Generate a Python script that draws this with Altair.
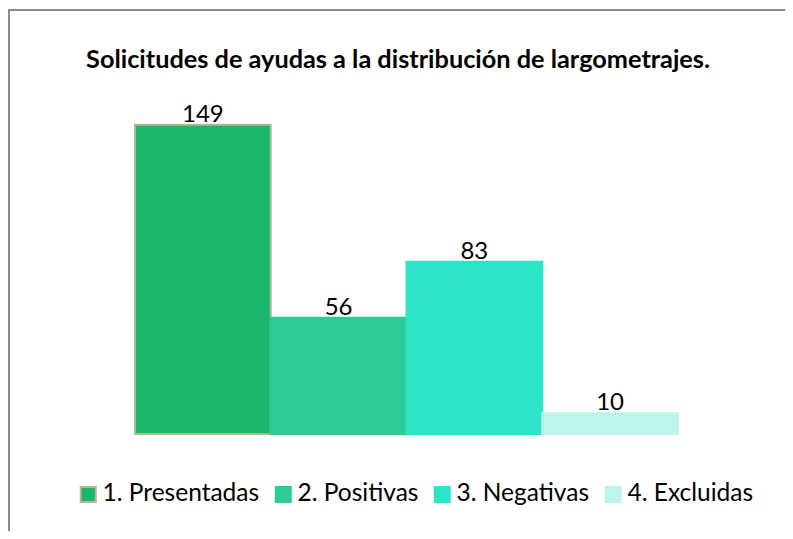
import altair as alt
import pandas as pd

categories = ["1. Presentadas", "2. Positivas", "3. Negativas", "4. Excluidas"]
values = [149, 56, 83, 10]
fill_colors = ["#1BB76E", "#2DCB97", "#2DE5C6", "#BDF5EC"]
stroke_colors = ["#B3B893", "#2DCB97", "#2DE5C6", "#BDF5EC"]
title_text = "Solicitudes de ayudas a la distribución de largometrajes."

df = pd.DataFrame({"cat": categories, "val": values})

FONT = "Lato"

base = alt.Chart(df).encode(
    x=alt.X("cat:N", sort=categories, axis=None,
            scale=alt.Scale(paddingInner=0, paddingOuter=0)),
    y=alt.Y("val:Q", axis=None, scale=alt.Scale(domain=[0, 160], nice=False)),
)

bars = base.mark_bar(strokeWidth=2).encode(
    fill=alt.Fill("cat:N", sort=categories,
                  scale=alt.Scale(domain=categories, range=fill_colors),
                  legend=alt.Legend(title=None, orient="none", direction="horizontal",
                                    legendX=-59, legendY=380,
                                    symbolType="square", symbolSize=225,
                                    symbolStrokeWidth=2,
                                    labelFont=FONT, labelFontSize=24.5, labelColor="#000000",
                                    labelOffset=2, columnPadding=11)),
    stroke=alt.Stroke("cat:N", sort=categories,
                      scale=alt.Scale(domain=categories, range=stroke_colors)),
)

labels = base.mark_text(baseline="alphabetic", dy=-3, font=FONT, fontSize=24,
                        color="#000000").encode(text="val:Q")

one = alt.Chart(pd.DataFrame({"t": [title_text]}))
title = one.mark_text(font=FONT, fontSize=25.3, fontWeight="bold", color="#000000",
                      align="center", baseline="alphabetic").encode(
    text="t:N", x=alt.value(263), y=alt.value(-34))
top_rule = one.mark_rule(color="#8C8C8C", strokeWidth=2).encode(
    x=alt.value(-127), x2=alt.value(660), y=alt.value(-92))
left_rule = one.mark_rule(color="#8C8C8C", strokeWidth=2).encode(
    x=alt.value(-126), y=alt.value(-92), y2=alt.value(440))

chart = alt.layer(bars, labels, title, top_rule, left_rule).properties(
    width=543, height=332,
    autosize=alt.AutoSizeParams(type="none"),
    padding={"left": 127, "top": 94, "right": 107, "bottom": 97},
).configure_view(stroke=None)

chart.save("out.html", embed_options={"renderer": "svg", "actions": False})
